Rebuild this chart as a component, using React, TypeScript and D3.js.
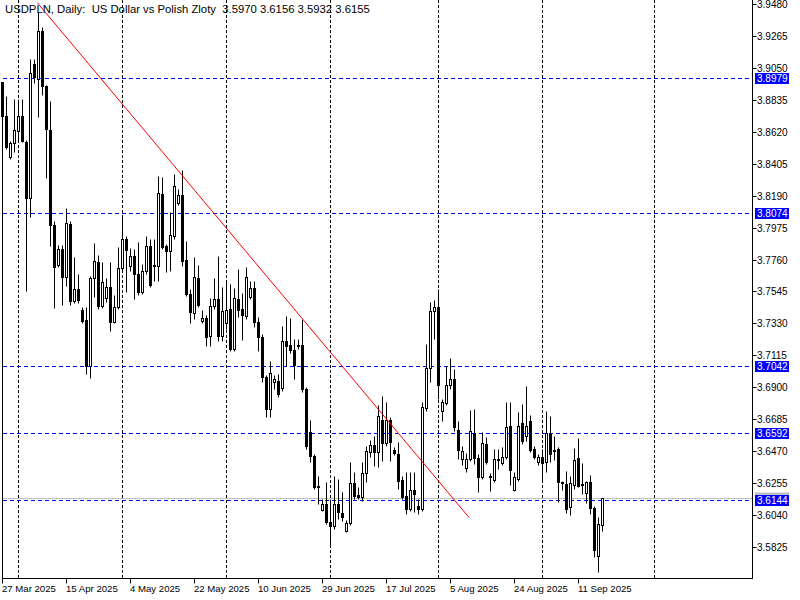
import React from "react";
import * as d3 from "d3";

const symbolTitle = "USDPLN, Daily:  US Dollar vs Polish Zloty";

const opens = [
  3.8955, 3.8726, 3.8450, 3.8544, 3.8625, 3.8726, 3.8551, 3.8174, 3.9076, 3.8975,
  3.9298, 3.8928, 3.8632, 3.7992, 3.7723, 3.7831, 3.7642, 3.7999, 3.7481, 3.7562,
  3.7420, 3.7353, 3.7043, 3.7636, 3.7743, 3.7447, 3.7501, 3.7575, 3.7339, 3.7440,
  3.7703, 3.7898, 3.7716, 3.7784, 3.7663, 3.7541, 3.7683, 3.7851, 3.7723, 3.7716,
  3.8201, 3.7851, 3.7817, 3.7918, 3.8141, 3.8194, 3.7757, 3.7528, 3.7400, 3.7636,
  3.7346, 3.7366, 3.7245, 3.7447, 3.7494, 3.7245, 3.7333, 3.7427, 3.7158, 3.7494,
  3.7427, 3.7380, 3.7508, 3.7568, 3.7339, 3.7239, 3.6969, 3.6754, 3.6936, 3.6942,
  3.6895, 3.7212, 3.7185, 3.7151, 3.7185, 3.7185, 3.6888, 3.6599, 3.6438, 3.6236,
  3.6074, 3.6114, 3.5994, 3.5966, 3.6114, 3.6054, 3.5933, 3.5987, 3.6256, 3.6175,
  3.6162, 3.6323, 3.6464, 3.6512, 3.6464, 3.6680, 3.6525, 3.6680, 3.6478, 3.6451,
  3.6276, 3.6168, 3.6081, 3.6209, 3.6101, 3.6081, 3.6761, 3.7030, 3.7414, 3.7440,
  3.6740, 3.6794, 3.6915, 3.6956, 3.6613, 3.6417, 3.6357, 3.6417, 3.6592, 3.6424,
  3.6296, 3.6518, 3.6303, 3.6276, 3.6417, 3.6390, 3.6431, 3.6640, 3.6209, 3.6283,
  3.6660, 3.6572, 3.6673, 3.6485, 3.6397, 3.6431, 3.6397, 3.6586, 3.6478, 3.6485,
  3.6263, 3.6249, 3.6094, 3.6242, 3.6424, 3.6249, 3.6188, 3.6263, 3.6088, 3.5764,
  3.5970,
];
const highs = [
  3.8955, 3.8861, 3.8558, 3.8841, 3.8841, 3.8841, 3.8565, 3.9110, 3.9110, 3.9426,
  3.9325, 3.8935, 3.8827, 3.8019, 3.7858, 3.7858, 3.8107, 3.8019, 3.7777, 3.7663,
  3.7440, 3.7440, 3.7649, 3.7871, 3.7791, 3.7743, 3.7636, 3.7743, 3.7521, 3.7844,
  3.8046, 3.7918, 3.7838, 3.7831, 3.7878, 3.7730, 3.7918, 3.7898, 3.7898, 3.8322,
  3.8315, 3.7865, 3.8080, 3.8336, 3.8235, 3.8363, 3.7885, 3.7562, 3.7777, 3.7723,
  3.7420, 3.7387, 3.7501, 3.7636, 3.7784, 3.7575, 3.7616, 3.7595, 3.7568, 3.7696,
  3.7535, 3.7710, 3.7616, 3.7616, 3.7373, 3.7259, 3.6983, 3.7077, 3.6983, 3.6990,
  3.7313, 3.7380, 3.7366, 3.7225, 3.7225, 3.7360, 3.6902, 3.6680, 3.6451, 3.6303,
  3.6148, 3.6263, 3.6148, 3.6303, 3.6283, 3.6195, 3.6007, 3.6397, 3.6330, 3.6229,
  3.6397, 3.6505, 3.6545, 3.6572, 3.6781, 3.6841, 3.6801, 3.6700, 3.6498, 3.6532,
  3.6303, 3.6330, 3.6330, 3.6330, 3.6148, 3.6801, 3.7191, 3.7474, 3.7488, 3.7562,
  3.6821, 3.7043, 3.7097, 3.7023, 3.6673, 3.6505, 3.6458, 3.6747, 3.6754, 3.6451,
  3.6599, 3.6565, 3.6323, 3.6485, 3.6485, 3.6498, 3.6801, 3.6801, 3.6330, 3.6734,
  3.6788, 3.6909, 3.6714, 3.6505, 3.6451, 3.6485, 3.6740, 3.6707, 3.6572, 3.6498,
  3.6269, 3.6337, 3.6303, 3.6491, 3.6559, 3.6390, 3.6269, 3.6310, 3.6101, 3.6027,
  3.6156,
];
const lows = [
  3.8706, 3.8504, 3.8437, 3.8484, 3.8551, 3.8551, 3.7548, 3.8046, 3.8948, 3.8719,
  3.8867, 3.8309, 3.7851, 3.7434, 3.7710, 3.7454, 3.7582, 3.7454, 3.7467, 3.7467,
  3.7333, 3.6990, 3.6963, 3.7508, 3.7427, 3.7434, 3.7474, 3.7279, 3.7333, 3.7427,
  3.7683, 3.7541, 3.7683, 3.7494, 3.7521, 3.7528, 3.7663, 3.7575, 3.7616, 3.7616,
  3.7831, 3.7676, 3.7683, 3.7898, 3.8127, 3.7716, 3.7515, 3.7333, 3.7360, 3.7440,
  3.7333, 3.7178, 3.7178, 3.7427, 3.7212, 3.7212, 3.7292, 3.7144, 3.7144, 3.7373,
  3.7218, 3.7360, 3.7494, 3.7306, 3.7144, 3.6936, 3.6700, 3.6700, 3.6888, 3.6835,
  3.6875, 3.7043, 3.7131, 3.6956, 3.7158, 3.6868, 3.6485, 3.6397, 3.6215, 3.6114,
  3.6067, 3.5980, 3.5832, 3.5946, 3.6014, 3.6000, 3.5926, 3.5973, 3.6148, 3.6148,
  3.6135, 3.6263, 3.6431, 3.6370, 3.6364, 3.6404, 3.6505, 3.6404, 3.6444, 3.6215,
  3.6148, 3.6047, 3.6067, 3.6061, 3.6047, 3.6067, 3.6740, 3.6936, 3.7225, 3.6821,
  3.6673, 3.6781, 3.6888, 3.6606, 3.6417, 3.6377, 3.6330, 3.6404, 3.6384, 3.6195,
  3.6283, 3.6384, 3.6202, 3.6263, 3.6350, 3.6377, 3.6417, 3.6242, 3.6202, 3.6269,
  3.6518, 3.6538, 3.6464, 3.6417, 3.6377, 3.6263, 3.6330, 3.6397, 3.6411, 3.6128,
  3.6209, 3.6054, 3.6040, 3.6215, 3.6229, 3.6182, 3.6121, 3.6047, 3.5758, 3.5657,
  3.5932,
];
const closes = [
  3.8726, 3.8517, 3.8544, 3.8632, 3.8726, 3.8558, 3.8174, 3.9016, 3.8989, 3.9298,
  3.8928, 3.8639, 3.7992, 3.7710, 3.7831, 3.7642, 3.8006, 3.7481, 3.7562, 3.7488,
  3.7346, 3.7043, 3.7636, 3.7750, 3.7447, 3.7609, 3.7575, 3.7339, 3.7440, 3.7703,
  3.7898, 3.7824, 3.7784, 3.7663, 3.7541, 3.7683, 3.7851, 3.7589, 3.7716, 3.8208,
  3.7844, 3.7817, 3.7925, 3.8255, 3.8194, 3.7750, 3.7528, 3.7407, 3.7642, 3.7454,
  3.7366, 3.7239, 3.7447, 3.7494, 3.7245, 3.7414, 3.7420, 3.7158, 3.7501, 3.7420,
  3.7387, 3.7642, 3.7568, 3.7339, 3.7239, 3.6969, 3.6754, 3.6996, 3.6956, 3.6855,
  3.7212, 3.7178, 3.7151, 3.7050, 3.7178, 3.6888, 3.6505, 3.6438, 3.6229, 3.6229,
  3.6114, 3.5994, 3.5966, 3.6114, 3.6061, 3.6027, 3.5987, 3.6256, 3.6168, 3.6162,
  3.6323, 3.6471, 3.6512, 3.6464, 3.6707, 3.6525, 3.6680, 3.6532, 3.6458, 3.6269,
  3.6162, 3.6081, 3.6209, 3.6182, 3.6081, 3.6767, 3.7030, 3.7414, 3.7440, 3.6915,
  3.6801, 3.6915, 3.6956, 3.6633, 3.6478, 3.6471, 3.6417, 3.6606, 3.6424, 3.6296,
  3.6525, 3.6397, 3.6296, 3.6417, 3.6411, 3.6431, 3.6633, 3.6343, 3.6296, 3.6640,
  3.6538, 3.6640, 3.6478, 3.6431, 3.6431, 3.6390, 3.6592, 3.6451, 3.6471, 3.6263,
  3.6256, 3.6081, 3.6256, 3.6411, 3.6236, 3.6242, 3.6263, 3.6088, 3.5805, 3.5980,
  3.6155,
];

const priceTicks = [
  3.5825, 3.6040, 3.6255, 3.6470, 3.6685, 3.6900, 3.7115, 3.7330, 3.7545,
  3.7760, 3.7975, 3.8190, 3.8405, 3.8620, 3.8835, 3.9050, 3.9265, 3.9480,
];
const levelLines = [3.8979, 3.8074, 3.7042, 3.6592, 3.6144];

const dateTickBars = [0, 16, 32, 48, 64, 80, 96, 112, 128, 144];
const dateTickLabels = [
  "27 Mar 2025", "15 Apr 2025", "4 May 2025", "22 May 2025", "10 Jun 2025",
  "29 Jun 2025", "17 Jul 2025", "5 Aug 2025", "24 Aug 2025", "11 Sep 2025",
];
// first bar of each month (period separators)
const monthStartBars = [4, 30, 56, 82, 109, 135, 163];

const trendBars = [8.7, 116.7];
const trendPrices = [3.9492, 3.6025];

const FONT = "'Liberation Sans', Arial, sans-serif";

export default function App() {
  const W = 800, H = 600;
  const plotRight = 752.5;
  const plotBottom = 578.5;
  const x = d3.scaleLinear().domain([0, 150]).range([2.5, 602.5]);
  const y = d3.scaleLinear().domain([3.5825, 3.948]).range([547.5, 4.5]);
  const snap = (v: number) => Math.round(v - 0.5) + 0.5;
  const n = closes.length;
  const last = n - 1;
  const fmt = d3.format(".4f");
  const title = `${symbolTitle}  ${fmt(opens[last])} ${fmt(highs[last])} ${fmt(lows[last])} ${fmt(closes[last])}`;
  const bid = closes[last];

  const candles = d3.range(n).map((i) => {
    const cx = x(i);
    const o = opens[i], c = closes[i];
    const yh = snap(y(highs[i])), yl = snap(y(lows[i]));
    const yTop = snap(y(Math.max(o, c)));
    const yBot = snap(y(Math.min(o, c)));
    const bull = c > o;
    return (
      <g key={i}>
        <line x1={cx} x2={cx} y1={yh} y2={yl} stroke="#000" strokeWidth={1} />
        {yBot - yTop < 1 ? (
          <line x1={cx - 2} x2={cx + 2} y1={yTop} y2={yTop} stroke="#000" strokeWidth={1} />
        ) : bull ? (
          <rect x={cx - 1} y={yTop} width={2} height={yBot - yTop} fill="#fff" stroke="#000" strokeWidth={1} />
        ) : (
          <rect x={cx - 1.5} y={yTop - 0.5} width={3} height={yBot - yTop + 1} fill="#000" />
        )}
      </g>
    );
  });

  return (
    <svg width={W} height={H} style={{ position: "absolute", left: 0, top: 0, background: "#fff" }} fontFamily={FONT}>
      <rect x={0} y={0} width={W} height={H} fill="#fff" />
      {monthStartBars.map((b) => (
        <line key={"g" + b} x1={x(b)} x2={x(b)} y1={0} y2={plotBottom} stroke="#000" strokeDasharray="3,2" strokeWidth={1} />
      ))}
      {levelLines.map((lv) => (
        <line key={"l" + lv} x1={3} x2={plotRight} y1={snap(y(lv))} y2={snap(y(lv))} stroke="#0000ff" strokeDasharray="4,3" strokeWidth={1} />
      ))}
      <line x1={3} x2={plotRight} y1={snap(y(bid))} y2={snap(y(bid))} stroke="#c0c0c0" strokeWidth={1} />
      {candles}
      <line x1={x(trendBars[0])} y1={y(trendPrices[0])} x2={x(trendBars[1])} y2={y(trendPrices[1])} stroke="#ff0000" strokeWidth={1} />
      <line x1={2.5} x2={2.5} y1={snap(y(highs[0]))} y2={plotBottom} stroke="#000" />
      <line x1={2} x2={plotRight + 0.5} y1={plotBottom} y2={plotBottom} stroke="#000" />
      <line x1={plotRight} x2={plotRight} y1={0} y2={plotBottom + 0.5} stroke="#000" />
      {priceTicks.map((p) => {
        const yy = snap(y(p));
        return (
          <g key={"t" + p}>
            <line x1={plotRight} x2={plotRight + 4} y1={yy} y2={yy} stroke="#000" />
            <text x={757} y={yy} dy="0.35em" fontSize={10} fill="#000">{fmt(p)}</text>
          </g>
        );
      })}
      <rect x={755} y={snap(y(bid)) - 6} width={34} height={11} fill="#c0c0c0" />
      {levelLines.map((lv) => {
        const yy = snap(y(lv));
        return (
          <g key={"lb" + lv}>
            <rect x={755} y={yy - 5.5} width={34} height={11} fill="#0000ff" />
            <text x={757} y={yy} dy="0.35em" fontSize={10} fill="#fff">{fmt(lv)}</text>
          </g>
        );
      })}
      {dateTickBars.map((b, k) => (
        <g key={"d" + b}>
          <line x1={x(b)} x2={x(b)} y1={plotBottom} y2={plotBottom + 5} stroke="#000" />
          <text x={x(b) - 0.5} y={592} fontSize={9.6} fill="#000">{dateTickLabels[k]}</text>
        </g>
      ))}
      <text x={5} y={13} fontSize={11.3} fill="#000" style={{ whiteSpace: "pre" }}>{title}</text>
    </svg>
  );
}
